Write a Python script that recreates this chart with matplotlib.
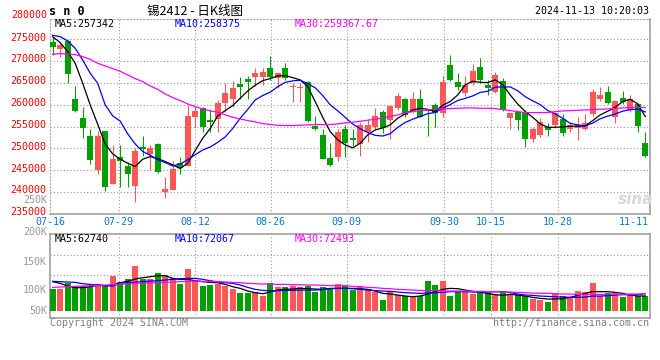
import numpy as np
import matplotlib.pyplot as plt
from matplotlib.transforms import ScaledTranslation

# Tagesdaten (80 Handelstage 07-16 .. 11-13)
opens = [274390, 272712, 274620, 261348, 257000, 252882, 245026, 254026, 241975, 248077,
         245890, 241517, 250441, 248840, 251051, 240145, 240603, 246627, 245890, 257306,
         259288, 256619, 256695, 260509, 261424, 264856, 265924, 266305, 266458, 268517,
         266229, 268517, 264000, 263850, 265314, 255246, 253110, 247925, 248077, 254483,
         252424, 250975, 253721, 255017, 258450, 256543, 259365, 261348, 258450, 261348,
         258831, 259975, 258068, 269127, 265314, 262797, 265085, 268670, 264551, 263025,
         265466, 257000, 258450, 258297, 252195, 253034, 255017, 255322, 256695, 254483,
         254789, 254407, 257915, 261348, 262949, 257153, 261577, 258831, 260204, 251356]
highs = [275600, 274237, 274850, 264322, 259441, 254407, 254026, 254026, 250822, 250822,
         246856, 250200, 252882, 250822, 251200, 243577, 247162, 248153, 259899, 259746,
         259441, 259059, 261119, 265085, 265466, 266458, 266686, 268517, 268517, 271186,
         267373, 269508, 265085, 265085, 265543, 257458, 254483, 251356, 254407, 255398,
         254483, 256085, 256695, 259212, 258831, 259975, 262797, 261653, 263025, 263560,
         258984, 260509, 266610, 271415, 267373, 266610, 269280, 270653, 265695, 267449,
         266076, 258221, 258603, 258831, 254865, 256924, 255780, 258450, 257915, 256162,
         257153, 257915, 263560, 264018, 264322, 261119, 263178, 262263, 260509, 253797]
lows = [271415, 270880, 265085, 258450, 252500, 246475, 244263, 240374, 241975, 241289,
        241289, 237857, 248306, 245026, 244340, 238772, 240527, 244187, 245890, 255017,
        253873, 253721, 253873, 258450, 259441, 261271, 261271, 264322, 264551, 265695,
        263788, 265695, 260738, 260738, 256085, 254255, 247620, 246018, 247238, 248153,
        250594, 248306, 251585, 254560, 253492, 252271, 258831, 257306, 258068, 257153,
        252882, 255017, 257153, 265543, 263407, 262034, 264551, 265085, 262263, 262797,
        258678, 254560, 254255, 250441, 251585, 252576, 252882, 254636, 252882, 253873,
        251966, 254255, 257458, 260966, 260204, 255780, 260204, 258450, 253873, 248153]
closes = [273322, 273780, 266990, 258678, 254789, 247467, 252882, 241136, 247620, 247162,
          244111, 249450, 249831, 250136, 244568, 240755, 245331, 245484, 257458, 258603,
          255017, 256162, 260509, 262644, 263941, 264170, 265314, 267373, 267602, 266305,
          267373, 266076, 264094, 263941, 256390, 254483, 247620, 246247, 253797, 251356,
          251966, 255322, 255398, 257534, 254789, 259746, 262110, 257610, 261348, 257306,
          258526, 258068, 265314, 265695, 264170, 264551, 267754, 265695, 263941, 266839,
          258831, 258221, 256543, 252195, 254483, 256009, 254255, 258068, 253644, 255322,
          255398, 255780, 262949, 262187, 260509, 260890, 260738, 261271, 255246, 248306]

# Gleitende Durchschnitte
ma5 = [275610, 274240, 272180, 269510, 264930, 259980, 255550, 251050, 248760, 247540,
       246630, 245870, 247540, 248150, 247700, 247010, 246250, 245410, 246630, 249530,
       252350, 254560, 257460, 258680, 259820, 261500, 263180, 264480, 265540, 266000,
       266610, 266690, 266230, 265700, 264170, 260740, 257150, 253870, 251970, 250820,
       250140, 251200, 253110, 254250, 254710, 255400, 256920, 257920, 258830, 259210,
       258980, 258450, 259900, 260740, 262260, 264550, 265390, 265160, 265090, 265700,
       264630, 262260, 260200, 258450, 257150, 255630, 254860, 254860, 254940, 255090,
       255090, 255170, 256390, 257690, 258530, 259440, 260740, 261270, 260200, 257342]
ma10 = [275920, 275610, 274620, 272940, 270270, 267220, 264930, 259970, 257460, 256280,
        253350, 251030, 249310, 248460, 247440, 246770, 246010, 246440, 247430, 248570,
        249660, 250330, 251400, 252650, 254590, 256930, 258930, 261120, 262130, 262900,
        264140, 265130, 265490, 265620, 264860, 263900, 262130, 260010, 258630, 257140,
        255600, 254520, 253650, 253010, 252850, 253380, 254830, 255960, 256720, 257310,
        257970, 258240, 259240, 260050, 260990, 261470, 262030, 262840, 263100, 264060,
        264090, 264100, 263220, 261870, 260910, 260050, 258700, 257940, 256910, 255760,
        255410, 255170, 255810, 256810, 257410, 257900, 258550, 258870, 259030, 258375]
ma30 = [271570, 271720, 271640, 271490, 271030, 270420, 269510, 268900, 268290, 267680,
        266840, 266000, 265310, 264320, 263560, 262490, 261650, 260970, 260200, 259590,
        259060, 258600, 258300, 257690, 257150, 256770, 256390, 256090, 255700, 255480,
        255320, 255250, 255250, 255320, 255400, 255480, 255480, 255480, 255630, 255860,
        256010, 256240, 256470, 256700, 257000, 257300, 257690, 258140, 258450, 258680,
        258830, 258980, 259060, 259140, 259210, 259290, 259290, 259210, 259210, 259140,
        258910, 258680, 258450, 258220, 258220, 258220, 258220, 258450, 258600, 258680,
        258750, 258830, 258910, 258980, 259060, 259140, 259290, 259360, 259440, 259367.67]

# Volumen in Tausend
volume = [92.1, 92.1, 117.6, 104.8, 106.3, 102.0, 113.3, 104.8, 148.8, 121.8,
          134.6, 191.3, 136.0, 133.2, 161.5, 151.6, 137.4, 114.8, 177.1, 126.1,
          104.8, 109.1, 114.8, 104.8, 92.1, 76.5, 76.5, 80.8, 63.8, 119.0,
          100.6, 100.6, 104.8, 99.2, 104.8, 80.8, 100.6, 90.7, 113.3, 104.8,
          89.3, 104.8, 90.7, 79.3, 45.3, 83.6, 65.2, 62.3, 62.3, 62.3,
          126.1, 109.1, 126.1, 62.3, 80.8, 85.0, 70.8, 76.5, 76.5, 65.2,
          80.8, 70.8, 66.6, 62.3, 49.6, 45.3, 38.3, 73.7, 62.3, 59.5,
          83.6, 79.3, 119.0, 62.3, 76.5, 73.7, 58.1, 65.2, 62.3, 62.3]
vma5 = [123.3, 116.2, 104.8, 97.8, 97.8, 102.0, 107.7, 106.3, 107.7, 119.0,
        124.7, 134.6, 140.3, 144.5, 148.8, 148.8, 137.4, 133.2, 133.2, 127.5,
        123.3, 120.4, 119.0, 111.9, 102.0, 94.9, 83.6, 76.5, 72.3, 79.3,
        87.8, 90.7, 92.1, 94.9, 93.5, 92.1, 90.7, 94.9, 94.9, 94.9,
        94.9, 93.5, 90.7, 83.6, 73.7, 70.8, 66.6, 62.3, 59.5, 62.3,
        70.8, 80.8, 90.7, 94.9, 93.5, 87.8, 82.2, 77.9, 73.7, 68.0,
        65.2, 69.4, 66.6, 62.3, 56.7, 52.4, 49.6, 49.6, 51.0, 56.7,
        65.2, 73.7, 80.8, 80.8, 80.8, 77.9, 73.7, 66.6, 62.3, 62.74]
vma10 = [124.7, 123.3, 121.8, 120.4, 114.8, 111.9, 109.1, 106.3, 104.8, 116.2,
         119.0, 121.8, 123.3, 126.1, 127.5, 130.3, 133.2, 136.0, 137.4, 137.4,
         133.2, 127.5, 121.8, 119.0, 116.2, 109.1, 99.2, 90.7, 86.4, 85.0,
         85.0, 86.4, 86.4, 87.8, 87.8, 87.8, 89.3, 93.5, 94.9, 94.9,
         93.5, 90.7, 87.8, 85.0, 83.6, 82.2, 79.3, 76.5, 75.1, 73.7,
         75.1, 76.5, 77.9, 80.8, 80.8, 80.8, 79.3, 79.3, 79.3, 80.8,
         80.8, 76.5, 70.8, 66.6, 65.2, 62.3, 60.9, 59.5, 58.1, 56.7,
         56.7, 58.1, 62.3, 62.3, 63.8, 66.6, 68.0, 68.0, 68.0, 72.07]
vma30 = [99.2, 100.6, 102.0, 103.4, 104.8, 106.3, 107.7, 109.1, 110.5, 113.3,
         114.8, 116.2, 117.6, 119.0, 119.0, 120.4, 121.8, 123.3, 124.7, 126.1,
         124.7, 124.7, 123.3, 121.8, 120.4, 119.0, 116.2, 114.8, 113.3, 113.3,
         111.9, 111.9, 110.5, 110.5, 109.1, 109.1, 107.7, 106.3, 106.3, 106.3,
         103.4, 102.0, 99.2, 97.8, 94.9, 93.5, 90.7, 89.3, 87.8, 86.4,
         85.0, 85.0, 83.6, 83.6, 83.6, 83.6, 82.2, 82.2, 80.8, 80.8,
         79.3, 79.3, 77.9, 76.5, 75.1, 73.7, 73.7, 72.3, 70.8, 70.8,
         69.4, 69.4, 69.4, 69.4, 69.4, 69.4, 69.4, 70.8, 70.8, 72.49]

date_labels = ['07-16', '07-29', '08-12', '08-26', '09-09', '09-30', '10-15', '10-28', '11-11']
price_ticks = [235000, 240000, 245000, 250000, 255000, 260000, 265000, 270000, 275000]
vol_labels = ['250K', '200K', '150K', '100K', '50K']

# Layout
W, H = 660, 360
def fx(px):
    return px / W
def fy(py):
    return 1 - py / H

RED = '#ff5656'
GREEN = '#00a000'
GRID = dict(color='#9a9a9a', linestyle=(0, (1, 2)), linewidth=0.8)
MONO = 'DejaVu Sans Mono'
FS = 7.2

fig = plt.figure(figsize=(6.6, 3.6), dpi=100)
ax = fig.add_axes([fx(50), fy(214), 600 / W, (214 - 19) / H])
axv = fig.add_axes([fx(50), fy(318.3), 600 / W, (318.3 - 234.3) / H])

o = np.array(opens, float)
c = np.array(closes, float)
x = np.arange(len(c))
colors = np.where(c >= o, RED, GREEN)

# Kerzen
ax.vlines(x, lows, highs, colors=colors, linewidth=0.75, zorder=2)
ax.bar(x, np.maximum(np.abs(c - o), 230), bottom=np.minimum(o, c),
       width=0.78, color=colors, linewidth=0, zorder=3)
ax.plot(x, ma5, color='black', lw=0.9, zorder=4)
ax.plot(x, ma10, color='#0000ff', lw=0.9, zorder=4)
ax.plot(x, ma30, color='#ff00ff', lw=0.9, zorder=4)

grid_pos = [-0.36, 8.8, 18.97, 29.07, 39.2, 52.2, 58.44, 67.4, 77.5]
for a in (ax, axv):
    a.set_xlim(-0.36, 79.64)
    for p in grid_pos[1:-1]:
        a.axvline(p, zorder=1, **GRID)

ax.set_ylim(235000, 279650)
ax.set_yticks(price_ticks)
ax.set_yticklabels([str(t) for t in price_ticks], color='red', family=MONO, fontsize=FS)
ax.tick_params(axis='y', length=0, pad=3)
for lab in ax.get_yticklabels():
    lab.set_transform(lab.get_transform() + ScaledTranslation(0, 2 / 72, fig.dpi_scale_trans))
ax.yaxis.grid(True, zorder=1, **GRID)
ax.set_axisbelow(True)
ax.set_xticks(grid_pos)
ax.set_xticklabels(date_labels, color='#0a78d2', family=MONO, fontsize=FS)
ax.tick_params(axis='x', length=0, pad=2.5)

for s in ('top', 'left'):
    ax.spines[s].set(color='#aaaaaa', linestyle=(0, (1, 2)), linewidth=0.8)
for s in ('right', 'bottom'):
    ax.spines[s].set(color='#a0a0a0', linewidth=1.2)

# Volumen
axv.bar(x, volume, width=0.78, color=colors, linewidth=0, zorder=3)
axv.plot(x, vma5, color='black', lw=0.9, zorder=4)
axv.plot(x, vma10, color='#0000ff', lw=0.9, zorder=4)
axv.plot(x, vma30, color='#ff00ff', lw=0.9, zorder=4)
axv.set_ylim(-32.3, 324.7)
for v in (151.7, 236.7):
    axv.axhline(v, zorder=1, **GRID)
axv.set_xticks([])
axv.set_yticks([])
for s in axv.spines.values():
    s.set(color='#a0a0a0', linewidth=1.2)

# Texte
txt = dict(family=MONO, fontsize=FS, va='center')
fig.text(fx(47), fy(15), '280000', color='red', ha='right', **txt)
for lab, py in zip(vol_labels, [200, 232, 261.7, 290.3, 310.7]):
    fig.text(fx(47), fy(py), lab, color='#999999', ha='right', **txt)

fig.text(fx(55), fy(24), 'MA5:257342', color='black', **txt)
fig.text(fx(175), fy(24), 'MA10:258375', color='#0000ff', **txt)
fig.text(fx(295), fy(24), 'MA30:259367.67', color='#ff00ff', **txt)
fig.text(fx(55), fy(238.5), 'MA5:62740', color='black', **txt)
fig.text(fx(175), fy(238.5), 'MA10:72067', color='#0000ff', **txt)
fig.text(fx(295), fy(238.5), 'MA30:72493', color='#ff00ff', **txt)

fig.text(fx(49), fy(11.5), 's n 0', family=MONO, fontsize=8.5, fontweight='bold', va='center')
fig.text(fx(195), fy(11), '锡2412 - 日K线图', family=['Noto Sans CJK SC', 'DejaVu Sans'],
         fontsize=9, ha='center', va='center')
fig.text(fx(649), fy(11.5), '2024-11-13 10:20:03', ha='right', **txt)
fig.text(fx(50), fy(323.5), 'Copyright 2024 SINA.COM', color='#808080', **txt)
fig.text(fx(649), fy(323.5), 'http://finance.sina.com.cn', color='#808080', ha='right', **txt)
fig.text(fx(636), fy(200), 'sina', color='#d8d8d8', fontsize=11, fontweight='bold',
         style='italic', ha='center', va='center')

fig.savefig('out.png', dpi=100)
